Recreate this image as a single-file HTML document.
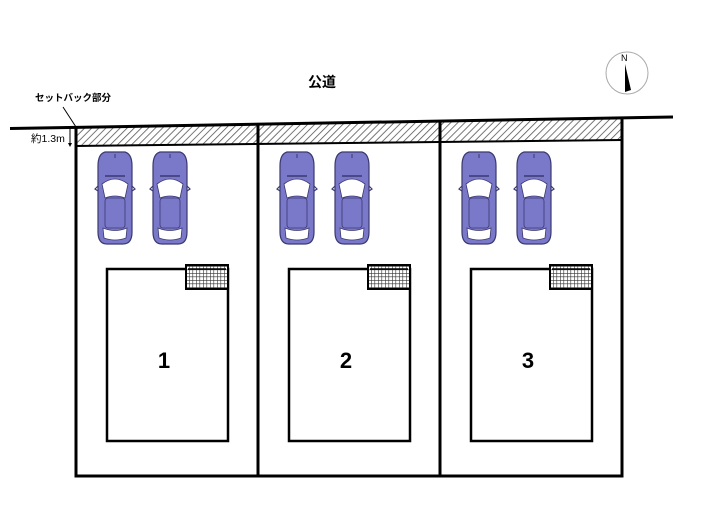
<!DOCTYPE html>
<html><head><meta charset="utf-8"><style>
html,body{margin:0;padding:0;background:#fff;}
svg{display:block;}
text{font-family:"Liberation Sans","Noto Sans CJK JP",sans-serif;}
</style></head><body>
<svg width="705" height="525" viewBox="0 0 705 525" xmlns="http://www.w3.org/2000/svg">
<defs>
<pattern id="hatch" width="5" height="5" patternUnits="userSpaceOnUse" patternTransform="rotate(45)">
<rect width="5" height="5" fill="#fff"/><line x1="0" y1="0" x2="0" y2="5" stroke="#555" stroke-width="1.6"/>
</pattern>
<pattern id="grid" width="3.5" height="3.5" patternUnits="userSpaceOnUse">
<rect width="3.5" height="3.5" fill="#fff"/><path d="M0 0H3.5M0 0V3.5" stroke="#333" stroke-width="1.2"/>
</pattern>
<g id="car">
<path d="M8 0 H28 Q35 2 35 14 V80 Q35 92 26 92 H10 Q1 92 1 80 V14 Q1 2 8 0 Z" fill="#7a78c8" stroke="#3a3870" stroke-width="1.2"/>
<path d="M5 32 Q18 22 31 32 L28 46 Q18 42 8 46 Z" fill="#fff" stroke="#3a3870" stroke-width="0.8"/>
<path d="M6 76 Q18 81 30 76 L29 86 Q18 90 7 86 Z" fill="#fff" stroke="#3a3870" stroke-width="0.8"/>
<rect x="8" y="46" width="20" height="30" rx="3" fill="#7a78c8" stroke="#3a3870" stroke-width="0.8"/>
<line x1="8" y1="24" x2="28" y2="24" stroke="#3a3870" stroke-width="1.5"/>
<path d="M1 34 L-2 37 L1 39 M35 34 L38 37 L35 39" fill="none" stroke="#3a3870" stroke-width="1.2"/>
<line x1="18" y1="2" x2="18" y2="6" stroke="#3a3870" stroke-width="1"/>
</g>
</defs>

<polygon points="75,128 622,119 622,140 75,146" fill="url(#hatch)"/>
<line x1="10" y1="128.5" x2="673" y2="117" stroke="#000" stroke-width="3"/>
<line x1="75" y1="146" x2="622" y2="140" stroke="#000" stroke-width="2"/>

<path d="M76 127 V476 H622 V119" fill="none" stroke="#000" stroke-width="3"/>
<line x1="258" y1="125" x2="258" y2="476" stroke="#000" stroke-width="3"/>
<line x1="440" y1="122" x2="440" y2="476" stroke="#000" stroke-width="3"/>

<text x="35" y="101" font-size="9.5" font-weight="bold">セットバック部分</text>
<line x1="63" y1="107" x2="76" y2="127" stroke="#000" stroke-width="1"/>
<text x="31" y="142" font-size="10.5">約1.3m</text>
<line x1="70" y1="129" x2="70" y2="146" stroke="#000" stroke-width="1"/>
<path d="M68 143 L70 147 L72 143 Z" fill="#000"/>

<text x="308" y="87" font-size="14" font-weight="bold">公道</text>

<circle cx="627" cy="73" r="21" fill="#fff" stroke="#aaa" stroke-width="1"/>
<text x="621" y="61" font-size="9" font-family="Liberation Serif,serif">N</text>
<path d="M625 64 L631 90 L625 92 Z" fill="#000"/>

<use href="#car" x="97" y="152"/><use href="#car" x="152" y="152"/>
<use href="#car" x="279" y="152"/><use href="#car" x="334" y="152"/>
<use href="#car" x="461" y="152"/><use href="#car" x="516" y="152"/>

<g fill="none" stroke="#000" stroke-width="2.5">
<rect x="107" y="269" width="121" height="172"/>
<rect x="289" y="269" width="121" height="172"/>
<rect x="471" y="269" width="121" height="172"/>
</g>
<g stroke="#000" stroke-width="2">
<rect x="186" y="265" width="42" height="24" fill="url(#grid)"/>
<rect x="368" y="265" width="42" height="24" fill="url(#grid)"/>
<rect x="550" y="265" width="42" height="24" fill="url(#grid)"/>
</g>
<g stroke="#000" stroke-width="1.5"><line x1="188" y1="269" x2="226" y2="269"/><line x1="370" y1="269" x2="408" y2="269"/><line x1="552" y1="269" x2="590" y2="269"/></g>

<g font-size="22" font-weight="bold" text-anchor="middle">
<text x="164" y="368">1</text><text x="346" y="368">2</text><text x="528" y="368">3</text>
</g>
</svg>
</body></html>
